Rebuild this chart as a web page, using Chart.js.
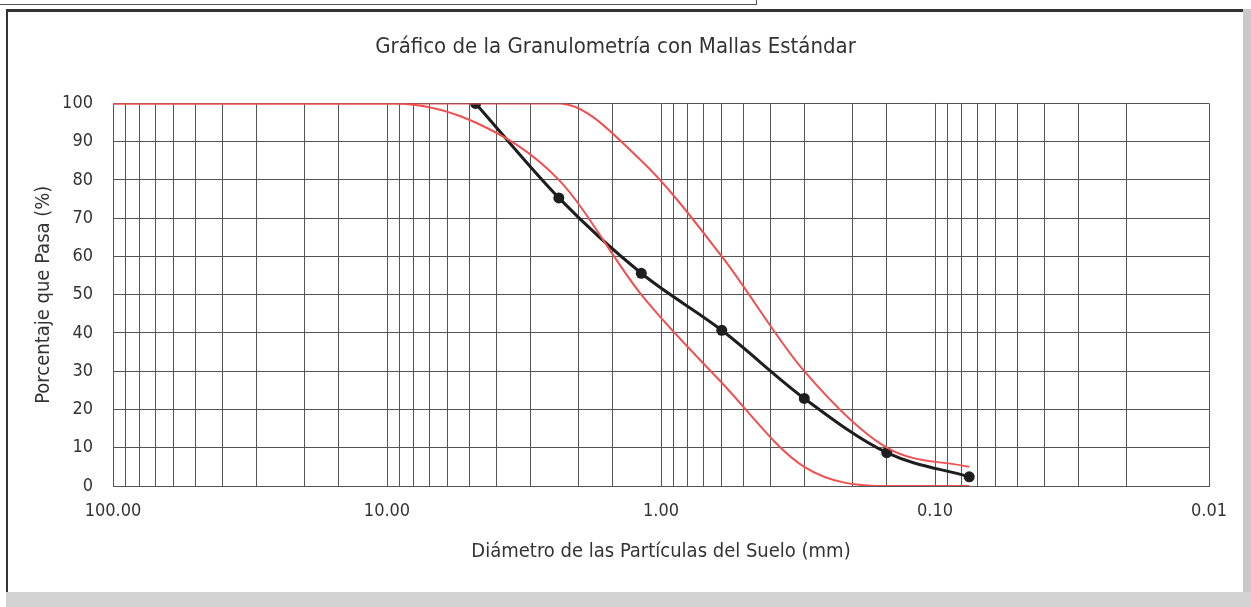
<!DOCTYPE html>
<html>
<head>
<meta charset="utf-8">
<script src="https://cdn.jsdelivr.net/npm/chart.js@4.4.0/dist/chart.umd.min.js"></script>
<style>
  html, body { margin:0; padding:0; background:#fff; }
  #wrap { position:relative; width:1251px; height:607px; overflow:hidden; }
  #topbox { position:absolute; left:0; top:0; width:756px; height:4px; border-right:1px solid #555; border-bottom:1px solid #555; }
  #frame { position:absolute; left:6px; top:9px; width:1237px; height:583px; border-left:2px solid #333; border-top:3px solid #333; }
  #shadowR { position:absolute; left:1243px; top:9px; width:8px; height:598px; background:#c9c9c9; }
  #shadowB { position:absolute; left:6px; top:592px; width:1245px; height:15px; background:#d2d2d2; }
  canvas { position:absolute; left:0; top:0; }
</style>
</head>
<body>
<div id="wrap">
  <div id="topbox"></div>
  <div id="frame"></div>
  <div id="shadowR"></div>
  <div id="shadowB"></div>
  <canvas id="granulo" width="1251" height="607"></canvas>
</div>
<script>
// tamiz (mm) y % que pasa de la muestra
var sieveSizes = [4.75, 2.36, 1.18, 0.6, 0.3, 0.15, 0.075];
var passing = [100, 75.3, 55.6, 40.7, 22.9, 8.7, 2.4];

// limites de la especificacion
var specSizes = [100, 9.5, 4.75, 2.36, 1.18, 0.6, 0.3, 0.15, 0.075];
var specUpper = [100, 100, 100, 100, 85, 60, 30, 10, 5];
var specLower = [100, 100, 95, 80, 50, 27, 5, 0, 0];

var xLabels = [100, 10, 1, 0.1, 0.01];
var yTicks = [0, 10, 20, 30, 40, 50, 60, 70, 80, 90, 100];

var FONT = "'Liberation Sans Narrow', 'Arial Narrow', 'DejaVu Sans Condensed', sans-serif";

function toPts(xs, ys){
  var out = [];
  for (var i = 0; i < xs.length; i++) out.push({x: xs[i], y: ys[i]});
  return out;
}

const ctx = document.getElementById("granulo");
let chart = new Chart(ctx, {
  type: 'line',
  data: {
    datasets: [
      { label: "Límite superior",
        data: toPts(specSizes, specUpper),
        borderColor: "rgb(240,80,80)",
        borderWidth: 2,
        pointRadius: 0,
        cubicInterpolationMode: 'monotone',
        fill: false
      },
      { label: "Límite inferior",
        data: toPts(specSizes, specLower),
        borderColor: "rgb(240,80,80)",
        borderWidth: 2,
        pointRadius: 0,
        cubicInterpolationMode: 'monotone',
        fill: false
      },
      { label: "Muestra",
        data: toPts(sieveSizes, passing),
        borderColor: "#1e1e1e",
        backgroundColor: "#1e1e1e",
        borderWidth: 3,
        pointRadius: 5.5,
        pointBorderWidth: 0,
        cubicInterpolationMode: 'monotone',
        fill: false
      }
    ]
  },
  options: {
    responsive: false,
    animation: false,
    layout: { padding: { left: 22, right: 42, top: 0, bottom: 0 } },
    plugins: {
      legend: { display: false },
      tooltip: { enabled: false },
      title: {
        display: true,
        text: "Gráfico de la Granulometría con Mallas Estándar",
        color: "#333",
        font: { family: FONT, size: 22, weight: 'normal' },
        padding: { top: 34, bottom: 43 }
      }
    },
    scales: {
      x: {
        type: 'logarithmic',
        reverse: true,
        min: 0.01,
        max: 100,
        afterFit: function(s){ s.height = 607 - 486; },
        grid: { color: "#555", lineWidth: 1, drawTicks: false },
        border: { color: "#555" },
        ticks: {
          autoSkip: false,
          maxRotation: 0,
          padding: 15,
          color: "#333",
          font: { family: FONT, size: 18 },
          callback: function(v){
            for (var i = 0; i < xLabels.length; i++) {
              if (Math.abs(v - xLabels[i]) < xLabels[i] * 1e-6) return xLabels[i].toFixed(2);
            }
            return '';
          }
        },
        title: {
          display: true,
          text: "Diámetro de las Partículas del Suelo (mm)",
          color: "#333",
          font: { family: FONT, size: 20 },
          padding: { top: 8, bottom: 43 }
        }
      },
      y: {
        min: 0,
        max: 100,
        afterFit: function(s){ s.width = 113 - 22; },
        afterBuildTicks: function(s){ s.ticks = yTicks.map(function(v){ return {value: v}; }); },
        grid: { color: "#555", lineWidth: 1, drawTicks: false },
        border: { color: "#555" },
        ticks: {
          padding: 20,
          color: "#333",
          font: { family: FONT, size: 18 }
        },
        title: {
          display: true,
          text: "Porcentaje que Pasa (%)",
          color: "#333",
          font: { family: FONT, size: 20 },
          padding: { top: 10, bottom: 0 }
        }
      }
    }
  }
});
</script>
</body>
</html>
